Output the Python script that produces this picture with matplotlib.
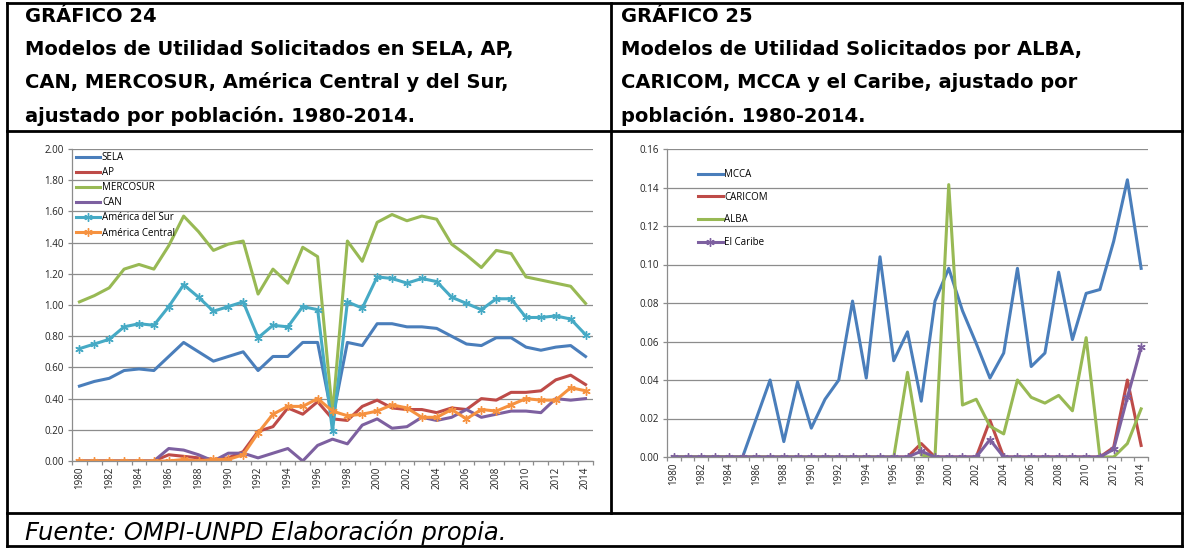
import numpy as np
import matplotlib.pyplot as plt

plt.rcParams['font.family'] = ['Open Sans', 'DejaVu Sans']

years = list(range(1980, 2015))

# Gráfico 24
sela = [0.48, 0.51, 0.53, 0.58, 0.59, 0.58, 0.67, 0.76, 0.70, 0.64, 0.67, 0.70,
        0.58, 0.67, 0.67, 0.76, 0.76, 0.27, 0.76, 0.74, 0.88, 0.88, 0.86, 0.86,
        0.85, 0.80, 0.75, 0.74, 0.79, 0.79, 0.73, 0.71, 0.73, 0.74, 0.67]
ap = [0, 0, 0, 0, 0, 0, 0.04, 0.03, 0.02, 0.01, 0.02, 0.06, 0.19, 0.22, 0.34,
      0.30, 0.38, 0.27, 0.26, 0.35, 0.39, 0.34, 0.33, 0.33, 0.31, 0.34, 0.33,
      0.40, 0.39, 0.44, 0.44, 0.45, 0.52, 0.55, 0.49]
mercosur = [1.02, 1.06, 1.11, 1.23, 1.26, 1.23, 1.38, 1.57, 1.47, 1.35, 1.39,
            1.41, 1.07, 1.23, 1.14, 1.37, 1.31, 0.30, 1.41, 1.28, 1.53, 1.58,
            1.54, 1.57, 1.55, 1.39, 1.32, 1.24, 1.35, 1.33, 1.18, 1.16, 1.14,
            1.12, 1.01]
can = [0, 0, 0, 0, 0, 0, 0.08, 0.07, 0.04, 0.00, 0.05, 0.05, 0.02, 0.05, 0.08,
       0.00, 0.10, 0.14, 0.11, 0.23, 0.27, 0.21, 0.22, 0.28, 0.26, 0.28, 0.33,
       0.28, 0.30, 0.32, 0.32, 0.31, 0.40, 0.39, 0.40]
am_sur = [0.72, 0.75, 0.78, 0.86, 0.88, 0.87, 0.99, 1.13, 1.05, 0.96, 0.99,
          1.02, 0.79, 0.87, 0.86, 0.99, 0.97, 0.19, 1.02, 0.98, 1.18, 1.17,
          1.14, 1.17, 1.15, 1.05, 1.01, 0.97, 1.04, 1.04, 0.92, 0.92, 0.93,
          0.91, 0.81]
am_central = [0, 0, 0, 0, 0, 0, 0.00, 0.01, 0.00, 0.01, 0.01, 0.04, 0.18, 0.30,
              0.35, 0.35, 0.40, 0.32, 0.29, 0.30, 0.32, 0.36, 0.34, 0.28, 0.28,
              0.33, 0.27, 0.33, 0.32, 0.36, 0.40, 0.39, 0.39, 0.47, 0.45]

# Gráfico 25
mcca = [0, 0, 0, 0, 0, 0, 0.020, 0.040, 0.008, 0.039, 0.015, 0.030, 0.040,
        0.081, 0.041, 0.104, 0.050, 0.065, 0.029, 0.081, 0.098, 0.076, 0.059,
        0.041, 0.054, 0.098, 0.047, 0.054, 0.096, 0.061, 0.085, 0.087, 0.112,
        0.144, 0.098]
caricom = [0, 0, 0, 0, 0, 0, 0, 0, 0, 0, 0, 0, 0, 0, 0, 0, 0, 0, 0.007, 0, 0,
           0, 0, 0.019, 0, 0, 0, 0, 0, 0, 0, 0, 0.005, 0.040, 0.006]
alba = [0, 0, 0, 0, 0, 0, 0, 0, 0, 0, 0, 0, 0, 0, 0, 0, 0, 0.044, 0.001, 0,
        0.1415, 0.027, 0.030, 0.016, 0.012, 0.040, 0.031, 0.028, 0.032, 0.024,
        0.062, 0, 0, 0.007, 0.025]
caribe = [0, 0, 0, 0, 0, 0, 0, 0, 0, 0, 0, 0, 0, 0, 0, 0, 0, 0, 0.003, 0, 0,
          0, 0, 0.009, 0, 0, 0, 0, 0, 0, 0, 0, 0.004, 0.031, 0.057]

W, H = 1188, 548
fig = plt.figure(figsize=(W / 100, H / 100), dpi=100)

# table frame drawn in pixel coordinates
bg = fig.add_axes([0, 0, 1, 1])
bg.set_xlim(0, W)
bg.set_ylim(H, 0)
bg.axis('off')
L, R, T, B = 7, 1182, 3, 546
MID, ROW1, ROW2 = 611, 131, 513
lw = 2.0
for xx in (L, R):
    bg.plot([xx, xx], [T, B], color='black', lw=lw)
bg.plot([MID, MID], [T, ROW2], color='black', lw=lw)
for yy in (T, ROW1, ROW2, B):
    bg.plot([L, R], [yy, yy], color='black', lw=lw)

title_kw = dict(fontsize=14, fontweight='bold', va='baseline', ha='left',
                family='DejaVu Sans')
t1 = ["GRÁFICO 24", "Modelos de Utilidad Solicitados en SELA, AP,",
      "CAN, MERCOSUR, América Central y del Sur,",
      "ajustado por población. 1980-2014."]
t2 = ["GRÁFICO 25", "Modelos de Utilidad Solicitados por ALBA,",
      "CARICOM, MCCA y el Caribe, ajustado por",
      "población. 1980-2014."]
for i, (a, b) in enumerate(zip(t1, t2)):
    yy = 22 + i * 33.2
    bg.text(25, yy, a, **title_kw)
    bg.text(621, yy, b, **title_kw)
bg.text(25, 540, "Fuente: OMPI-UNPD Elaboración propia.", fontsize=17.5,
        style='italic', va='baseline', ha='left', family='DejaVu Sans')

grid_c = '#8c8c8c'
x = np.arange(len(years))


def setup(ax, ymax, step):
    ax.set_xlim(-0.5, len(years) - 0.5)
    ax.set_ylim(0, ymax)
    ax.set_yticks(np.arange(0, ymax + step / 2, step))
    ax.yaxis.set_major_formatter(plt.FormatStrFormatter('%.2f'))
    ax.grid(axis='y', color=grid_c, lw=0.9)
    ax.set_axisbelow(True)
    for s in ('top', 'right'):
        ax.spines[s].set_visible(False)
    for s in ('left', 'bottom'):
        ax.spines[s].set_color(grid_c)
        ax.spines[s].set_linewidth(0.9)
    ax.set_xticks(np.arange(-0.5, len(years)), minor=False)
    ax.set_xticklabels([])
    ax.set_xticks(x[::2], minor=True)
    ax.set_xticklabels([str(y) for y in years[::2]], minor=True, rotation=90,
                       fontsize=7, color='#222222')
    ax.tick_params(axis='x', which='major', length=3, color=grid_c, width=0.9)
    ax.tick_params(axis='x', which='minor', length=0, pad=4)
    ax.tick_params(axis='y', length=3, color=grid_c, width=0.9, labelsize=7,
                   labelcolor='#222222', pad=3)


def frac(l, r, t, b):
    return [l / W, (H - b) / H, (r - l) / W, (b - t) / H]


star = (6, 2, 0)
lw_s = 2.2

ax1 = fig.add_axes(frac(72, 593, 149, 461))
ax1.plot(x, sela, color='#4A7EBB', lw=lw_s, label='SELA')
ax1.plot(x, ap, color='#BE4B48', lw=lw_s, label='AP')
ax1.plot(x, mercosur, color='#98B954', lw=lw_s, label='MERCOSUR')
ax1.plot(x, can, color='#7D60A0', lw=lw_s, label='CAN')
ax1.plot(x, am_sur, color='#46AAC5', lw=lw_s, marker=star, ms=6, mew=1,
         label='América del Sur')
ax1.plot(x, am_central, color='#F69240', lw=lw_s, marker=star, ms=6, mew=1,
         label='América Central')
setup(ax1, 2.0, 0.2)
ax1.legend(loc='upper left', bbox_to_anchor=(0.008, 0.99),
           frameon=False, fontsize=7, handlelength=2.5,
           handletextpad=0.15, labelspacing=0.42, borderpad=0,
           borderaxespad=0)

ax2 = fig.add_axes(frac(667, 1148, 149, 457))
ax2.plot(x, mcca, color='#4A7EBB', lw=lw_s, label='MCCA')
ax2.plot(x, caricom, color='#BE4B48', lw=lw_s, label='CARICOM')
ax2.plot(x, alba, color='#98B954', lw=lw_s, label='ALBA')
ax2.plot(x, caribe, color='#7D60A0', lw=lw_s, marker=star, ms=6, mew=1,
         label='El Caribe')
setup(ax2, 0.16, 0.02)
ax2.legend(loc='upper left', bbox_to_anchor=(0.065, 0.935),
           frameon=False, fontsize=7, handlelength=2.5,
           handletextpad=0.15, labelspacing=1.2, borderpad=0,
           borderaxespad=0)

fig.savefig('out.png', dpi=100)
